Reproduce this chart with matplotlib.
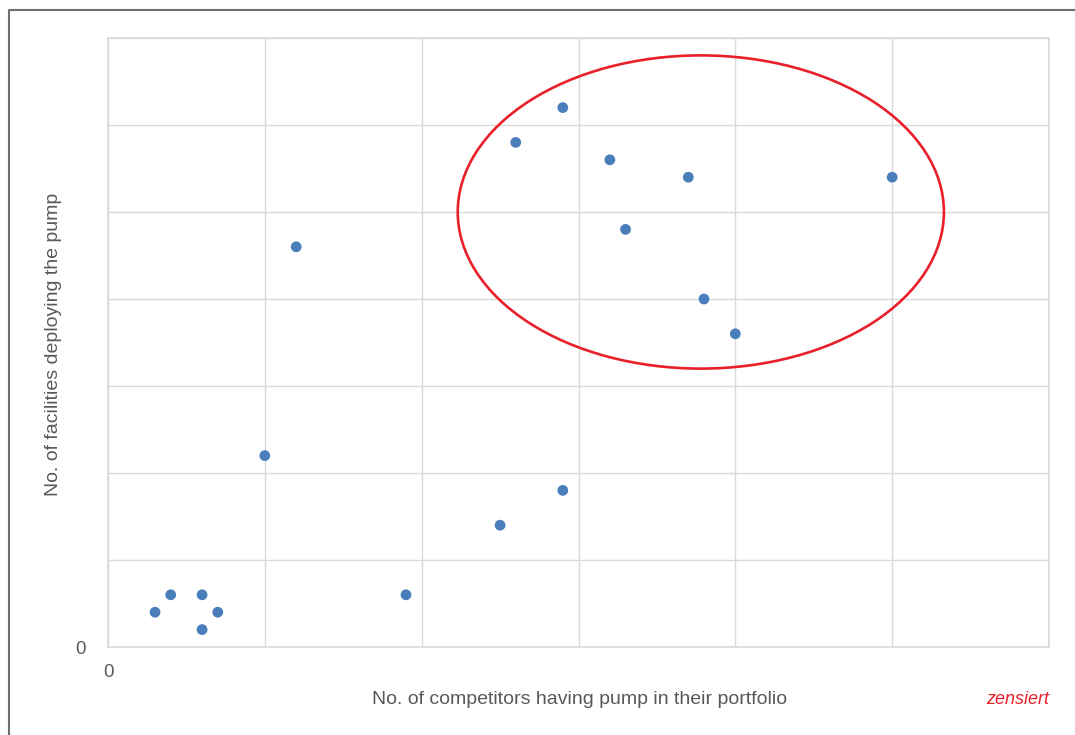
import matplotlib
matplotlib.use('Agg')
import matplotlib.pyplot as plt
from matplotlib.patches import Ellipse
from matplotlib.lines import Line2D

# data (x grid step 10, y grid step 5)
competitors = [3, 4, 6, 6, 7, 10, 12, 19, 25, 26, 29, 29, 32, 33, 37, 38, 40, 50]
facilities = [2, 3, 3, 1, 2, 11, 23, 3, 7, 29, 31, 9, 28, 24, 27, 20, 18, 27]
x_ticks = [0, 10, 20, 30, 40, 50, 60]
y_ticks = [0, 5, 10, 15, 20, 25, 30, 35]
x_tick_labels = ['0', '', '', '', '', '', '']
y_tick_labels = ['0', '', '', '', '', '', '', '']

# highlighted cluster (center, width, height in data units)
ellipse_center = (37.8, 25.0)
ellipse_w, ellipse_h = 31.0, 18.0

plt.rcParams['font.family'] = ['Liberation Sans', 'DejaVu Sans']

W, H = 1075, 735
fig = plt.figure(figsize=(W / 100, H / 100), dpi=100)
ax = fig.add_axes([108 / W, (H - 647) / H, (1049 - 108) / W, (647 - 38) / H])

ax.scatter(competitors, facilities, s=60, color='#4a7ebb', edgecolors='none', zorder=3)

ax.set_xlim(0, 60)
ax.set_ylim(0, 35)
ax.set_xticks(x_ticks)
ax.set_yticks(y_ticks)
ax.set_xticklabels(x_tick_labels, fontsize=13.5, color='#595959')
ax.set_yticklabels(y_tick_labels, fontsize=13.5, color='#595959')
ax.tick_params(axis='x', length=0, pad=12)
ax.tick_params(axis='y', length=0, pad=16)
ax.grid(True, color='#d9d9d9', linewidth=1)
ax.set_axisbelow(True)
for sp in ax.spines.values():
    sp.set_color('#d9d9d9')
    sp.set_linewidth(1.2)

ax.add_patch(Ellipse(ellipse_center, ellipse_w, ellipse_h, fill=False,
                     edgecolor='#e8202a', linewidth=1.9, zorder=4))

fig.text(580 / W, 1 - 699 / H, 'No. of competitors having pump in their portfolio',
         ha='center', va='center', fontsize=14, color='#595959')
fig.text(54 / W, 1 - 344 / H, 'No. of facilities deploying the pump',
         ha='center', va='center', rotation=90, fontsize=14, color='#595959')
fig.text(1049 / W, 1 - 700 / H, 'zensiert', ha='right', va='center',
         fontsize=13, style='italic', color='#e8202a')

# outer frame (left and top edges)
fig.add_artist(Line2D([9 / W, 9 / W, 1.0], [0.0, 1 - 9.5 / H, 1 - 9.5 / H],
                      color='#6e6e6e', linewidth=1.5, transform=fig.transFigure))

fig.savefig('out.png', dpi=100)
